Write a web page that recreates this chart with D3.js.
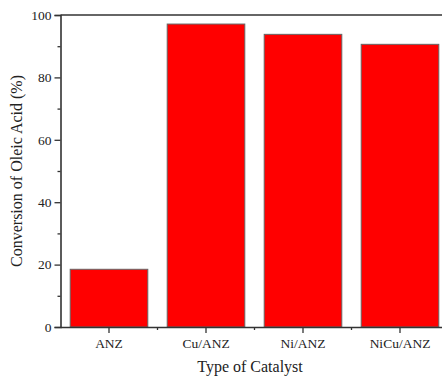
<!DOCTYPE html>
<html>
<head>
<meta charset="utf-8">
<script src="https://cdn.jsdelivr.net/npm/d3@7"></script>
<style>
  body { margin: 0; background: #fff; }
  svg { display: block; }
  text { font-family: "Liberation Serif", "Times New Roman", serif; fill: #222; }
</style>
</head>
<body>
<svg id="chart" width="442" height="376"></svg>
<script>
// Catalyst conversion data
const catalysts = ["ANZ", "Cu/ANZ", "Ni/ANZ", "NiCu/ANZ"];
const conversion = [18.5, 97.1, 93.8, 90.6];
const yMajorTicks = [0, 20, 40, 60, 80, 100];
const yMinorTicks = [10, 30, 50, 70, 90];

const svg = d3.select("#chart");
const plotLeft = 60.5, plotTop = 15, plotBottom = 327;
const bandRight = plotLeft + 97 * catalysts.length;

const x = d3.scaleBand().domain(catalysts).range([plotLeft, bandRight]).paddingInner(0.2).paddingOuter(0.1);
const y = d3.scaleLinear().domain([0, 100]).range([plotBottom, plotTop]);

const axisColor = "#333";

// bars
svg.append("g").selectAll("rect")
  .data(catalysts)
  .join("rect")
  .attr("x", d => x(d))
  .attr("width", x.bandwidth())
  .attr("y", (d, i) => y(conversion[i]))
  .attr("height", (d, i) => y(0) - y(conversion[i]))
  .attr("fill", "#ff0000")
  .attr("stroke", "#666")
  .attr("stroke-width", 1);

// top frame line
svg.append("line")
  .attr("x1", plotLeft).attr("x2", 442)
  .attr("y1", plotTop).attr("y2", plotTop)
  .attr("stroke", axisColor).attr("stroke-width", 1.6);

// y axis
const yAxis = svg.append("g")
  .attr("transform", `translate(${plotLeft},0)`)
  .call(d3.axisLeft(y).tickValues(yMajorTicks).tickSize(6).tickPadding(3).tickFormat(d3.format("d")));
yAxis.select(".domain").attr("stroke", axisColor).attr("stroke-width", 1.6);
yAxis.selectAll(".tick line").attr("stroke", axisColor).attr("stroke-width", 1.3);
yAxis.selectAll(".tick text").style("font-size", "13.5px").attr("fill", "#222");

svg.append("g")
  .attr("transform", `translate(${plotLeft},0)`)
  .call(d3.axisLeft(y).tickValues(yMinorTicks).tickSize(3).tickFormat(""))
  .call(g => g.select(".domain").remove())
  .selectAll(".tick line").attr("stroke", axisColor).attr("stroke-width", 1.3);

// x axis
const xAxis = svg.append("g")
  .attr("transform", `translate(0,${plotBottom})`)
  .call(d3.axisBottom(x).tickSize(6).tickPadding(5).tickSizeOuter(0));
xAxis.select(".domain").attr("stroke", axisColor).attr("stroke-width", 1.6)
  .attr("d", `M${plotLeft},0.5H442`);
xAxis.selectAll(".tick line").attr("stroke", axisColor).attr("stroke-width", 1.3);
xAxis.selectAll(".tick text").style("font-size", "13.5px").attr("fill", "#222");

// minor ticks between categories
const step = x.step();
const xMinor = catalysts.slice(1).map(c => x(c) - step * x.paddingInner() / 2);
svg.append("g").selectAll("line")
  .data(xMinor)
  .join("line")
  .attr("x1", d => d).attr("x2", d => d)
  .attr("y1", plotBottom).attr("y2", plotBottom + 3)
  .attr("stroke", axisColor).attr("stroke-width", 1.3);

// axis titles
svg.append("text")
  .attr("x", 250).attr("y", 372)
  .attr("text-anchor", "middle")
  .style("font-size", "16px")
  .text("Type of Catalyst");

svg.append("text")
  .attr("transform", `translate(22,${(plotTop + plotBottom) / 2}) rotate(-90)`)
  .attr("text-anchor", "middle")
  .style("font-size", "16px")
  .text("Conversion of Oleic Acid (%)");
</script>
</body>
</html>
